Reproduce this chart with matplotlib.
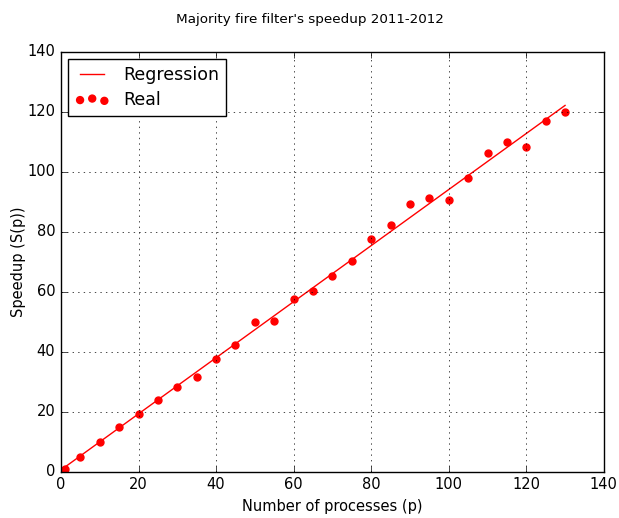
import matplotlib
matplotlib.use("Agg")
import matplotlib.pyplot as plt
import numpy as np

processes = [1, 5, 10, 15, 20, 25, 30, 35, 40, 45, 50, 55, 60, 65,
             70, 75, 80, 85, 90, 95, 100, 105, 110, 115, 120, 125, 130]
speedup = [1.0, 4.8, 9.9, 15.1, 19.3, 24.0, 28.4, 31.7, 37.7, 42.3, 49.8, 50.4, 57.6, 60.3,
           65.4, 70.2, 77.7, 82.4, 89.3, 91.2, 90.6, 98.0, 106.4, 109.8, 108.3, 117.1, 119.9]

plt.style.use('classic')

slope, intercept = np.polyfit(processes, speedup, 1)
fit = [intercept + slope * p for p in processes]

fig = plt.figure(figsize=(6.19, 5.18), dpi=100)
ax = fig.add_axes([0.0985, 0.089, 0.877, 0.811])

ax.plot(processes, fit, color='red', label='Regression')
ax.scatter(processes, speedup, color='red', edgecolor='red', s=25, label='Real')

ax.set_xlim(0, 140)
ax.set_ylim(0, 140)
ax.grid(True)
ax.tick_params(labelsize=10.5)
ax.set_xlabel('Number of processes (p)', fontsize=10.5)
ax.set_ylabel('Speedup (S(p))', fontsize=10.5, labelpad=1)
fig.suptitle("Majority fire filter's speedup 2011-2012", fontsize=9.7, y=0.975)
ax.legend(loc='upper left', fontsize=12.5, scatterpoints=3,
          labelspacing=0.4, borderaxespad=0.4)

fig.savefig('out.png', dpi=100)
